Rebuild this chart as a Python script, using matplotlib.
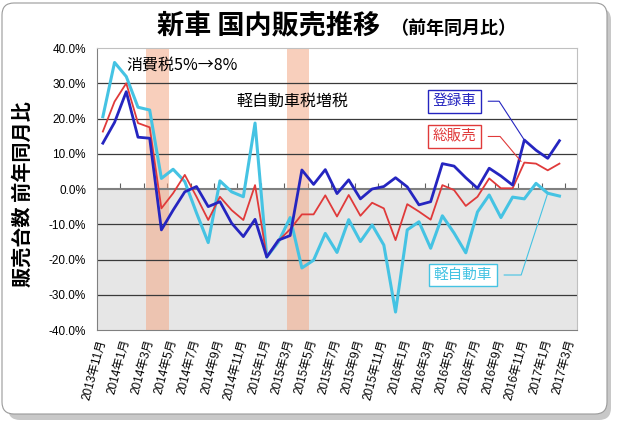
import numpy as np
import matplotlib.pyplot as plt
from matplotlib.patches import FancyBboxPatch

plt.rcParams['font.family'] = ['Liberation Sans', 'Noto Sans CJK JP', 'DejaVu Sans']

# 月（横軸カテゴリ）
months = ['2013年11月', '2013年12月',
          '2014年1月', '2014年2月', '2014年3月', '2014年4月', '2014年5月', '2014年6月',
          '2014年7月', '2014年8月', '2014年9月', '2014年10月', '2014年11月', '2014年12月',
          '2015年1月', '2015年2月', '2015年3月', '2015年4月', '2015年5月', '2015年6月',
          '2015年7月', '2015年8月', '2015年9月', '2015年10月', '2015年11月', '2015年12月',
          '2016年1月', '2016年2月', '2016年3月', '2016年4月', '2016年5月', '2016年6月',
          '2016年7月', '2016年8月', '2016年9月', '2016年10月', '2016年11月', '2016年12月',
          '2017年1月', '2017年2月', '2017年3月']

# 前年同月比 (%)
touroku = [13.0, 18.9, 27.6, 14.7, 14.4, -11.6, -6.0, -0.8, 0.7, -5.0,
           -3.6, -9.7, -13.5, -8.6, -19.3, -14.5, -13.2, 5.4, 1.3, 5.5,
           -1.3, 2.6, -2.8, 0.0, 0.7, 3.2, 0.6, -4.5, -3.6, 7.2,
           6.5, 3.2, 0.2, 5.9, 3.7, 1.1, 13.9, 11.0, 8.7, 13.7]
sou = [16.3, 24.8, 30.0, 18.7, 17.5, -5.5, -1.2, 4.0, -2.2, -8.8,
       -2.2, -6.0, -8.8, 1.1, -19.3, -14.7, -11.4, -7.2, -7.2, -1.8,
       -7.8, -1.7, -7.6, -3.9, -5.5, -14.5, -4.3, -6.4, -8.7, 1.1,
       -0.3, -4.8, -2.2, 3.0, 0.2, 0.2, 7.5, 7.2, 5.3, 7.2]
kei = [20.5, 35.9, 31.9, 23.2, 22.4, 3.0, 5.6, 2.1, -6.8, -15.2,
       2.3, -0.8, -2.2, 18.7, -19.3, -15.0, -8.1, -22.4, -20.2, -12.6,
       -18.0, -8.7, -14.9, -10.2, -15.9, -34.9, -11.6, -9.3, -16.8, -7.6,
       -12.5, -18.1, -6.5, -1.7, -8.1, -2.3, -2.8, 1.6, -1.2, -2.0]

tax_hikes = ['2014年4月', '2015年4月']

c_blue = '#2525c0'
c_red = '#e03a3a'
c_cyan = '#45c3e3'

fig = plt.figure(figsize=(6.18, 4.23), dpi=100)

# 外枠（角丸＋影）
shadow = FancyBboxPatch((0.08, 0.03), 6.03, 4.12, boxstyle='round,pad=0,rounding_size=0.12',
                        transform=fig.dpi_scale_trans, fc='#c8c8c8', ec='none', zorder=-3)
frame = FancyBboxPatch((0.02, 0.09), 6.05, 4.11, boxstyle='round,pad=0,rounding_size=0.12',
                       transform=fig.dpi_scale_trans, fc='white', ec='#9a9a9a', lw=0.8, zorder=-2)
fig.patches.extend([shadow, frame])

ax = fig.add_axes([97 / 618, 1 - 330 / 423, 480 / 618, 282 / 423])
ax.set_facecolor('none')

x = np.arange(len(touroku))

ax.axhspan(-40, 0, color='#e6e6e6', lw=0, zorder=0)
for m in tax_hikes:
    i = months.index(m)
    ax.axvspan(i - 1.3, i + 0.65, color='#f4a886', alpha=0.55, lw=0, zorder=0.5)

yt = np.arange(-40, 41, 10)
for v in yt[1:-1]:
    if v != 0:
        ax.axhline(v, color='#3a3a3a', lw=0.9, zorder=1)
ax.axhline(0, color='#808080', lw=1.5, zorder=1.5)

ax.plot(x, kei, color=c_cyan, lw=2.2, zorder=3)
ax.plot(x, sou, color=c_red, lw=1.3, zorder=3.5)
ax.plot(x, touroku, color=c_blue, lw=2.0, zorder=4)

ax.set_xlim(-0.5, len(months) - 0.5)
ax.set_ylim(-40, 40)
ax.set_yticks(yt)
ax.set_yticklabels(['{:.1f}%'.format(v) for v in yt], fontsize=8.5)
ax.tick_params(axis='y', length=0, pad=8)

ax.set_xticks(np.arange(0, len(months), 2))
ax.set_xticklabels(months[::2], fontsize=8.5, rotation=75, ha='right', va='center',
                   rotation_mode='anchor')
ax.tick_params(axis='x', length=0, pad=7)

# ゼロ線上の目盛り
sec = ax.secondary_xaxis(0.5)
sec.set_xticks(np.arange(1.5, len(months), 2))
sec.tick_params(direction='out', length=4, color='#606060', labeltop=False, labelbottom=False)
for s in sec.spines.values():
    s.set_visible(False)

ax.spines['left'].set_color('#808080')
ax.spines['bottom'].set_color('#808080')
ax.spines['top'].set_color('#c0c0c0')
ax.spines['right'].set_color('#c0c0c0')

ax.text(2.04, 35.2, '消費税5%→8%', fontsize=11.5, ha='left', va='center', zorder=5,
        family=['Noto Sans CJK JP'])
ax.text(11.43, 24.8, '軽自動車税増税', fontsize=11.5, ha='left', va='center', zorder=5)

def label_box(txt, col, pos, target, angB):
    ax.annotate(txt, xy=target, xytext=pos, color=col, fontsize=10.5, ha='center', va='center',
                bbox=dict(boxstyle='square,pad=0.3', fc='white', ec=col, lw=1.0),
                arrowprops=dict(arrowstyle='-', color=col, lw=0.8, shrinkA=5, shrinkB=1,
                                connectionstyle='angle,angleA=0,angleB=%d,rad=0' % angB),
                zorder=6)

label_box('登録車', c_blue, (30.03, 24.9), (36, touroku[36]), 123)
label_box('総販売', c_red, (30.03, 14.9), (35.8, sou[36]), 130)
label_box('軽自動車', c_cyan, (30.76, -24.4), (38, kei[38]), 72)

fig.text(157 / 618, 1 - 34 / 423, '新車 国内販売推移', fontsize=19.5, weight='bold',
         family=['Noto Sans CJK JP'], ha='left', va='baseline')
fig.text(390 / 618, 1 - 34 / 423, '（前年同月比）', fontsize=13, weight='bold',
         family=['Noto Sans CJK JP'], ha='left', va='baseline')
fig.text(22 / 618, 1 - 194 / 423, '販売台数 前年同月比', rotation=90, fontsize=14.5,
         weight='bold', family=['Noto Sans CJK JP'], ha='center', va='center')

fig.savefig('out.png', dpi=100)
